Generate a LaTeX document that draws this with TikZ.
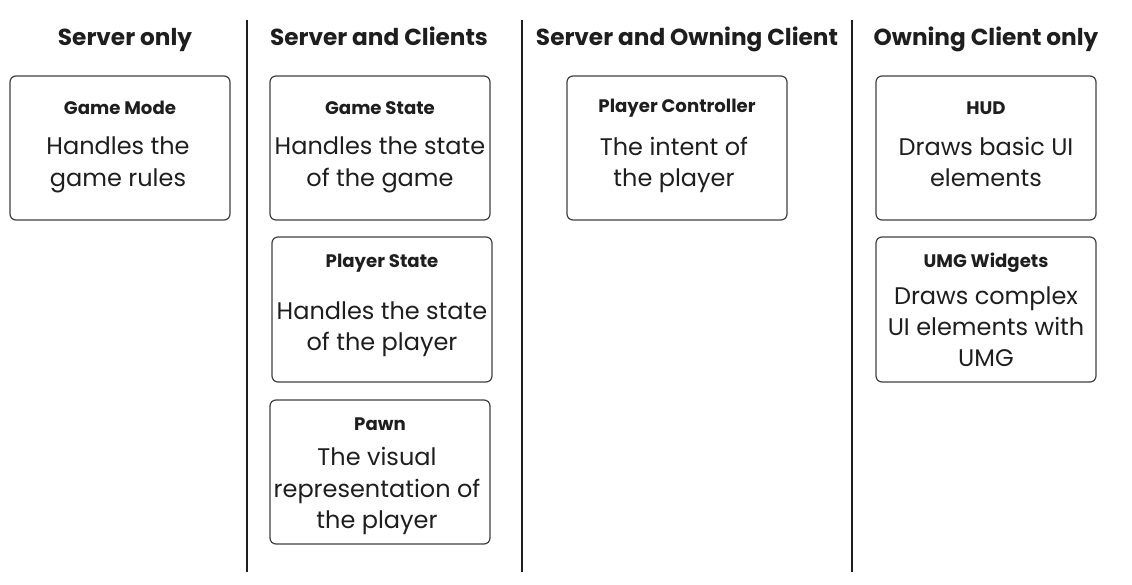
\documentclass[tikz,border=0pt]{standalone}
\usepackage{fontspec}
\setmainfont{Poppins}
\definecolor{ink}{HTML}{1E1E1E}
\begin{document}
\begin{tikzpicture}[x=0.75pt,y=-0.75pt,
  card/.style={draw=ink!85,line width=0.9pt,rounded corners=4.5pt},
  divider/.style={draw=ink,line width=1.4pt},
  head/.style={font=\fontsize{17.4}{20}\selectfont\bfseries,text=ink,inner sep=0pt},
  ttl/.style={font=\fontsize{13.6}{17}\selectfont\bfseries,text=ink,inner sep=0pt},
  body/.style={font=\fontsize{18}{23.5}\selectfont,text=ink,inner sep=0pt,align=center}]
\useasboundingbox (0,0) rectangle (1132,585);
% dividers
\coordinate (d1t) at (247,20); \coordinate (d1b) at (247,572);
\coordinate (d2t) at (522,20); \coordinate (d2b) at (522,572);
\coordinate (d3t) at (852,20); \coordinate (d3b) at (852,572);
\draw[divider] (d1t) -- (d1b);
\draw[divider] (d2t) -- (d2b);
\draw[divider] (d3t) -- (d3b);
% headers
\node[head] (h1) at (125,39.5) {Server only};
\node[head] (h2) at (379,39.5) {Server and Clients\vphantom{y}};
\node[head] (h3) at (687,39.5) {Server and Owning Client};
\node[head] (h4) at (986,39.5) {Owning Client only};
% cards
\draw[card] (10,76) rectangle (230,220);
\node[ttl] (gm) at (120,108) {Game Mode};
\node[body] (gmb) at (118,165) {Handles the\\game rules};
\draw[card] (270,76) rectangle (490,220);
\node[ttl] (gs) at (380,108) {Game State};
\node[body] (gsb) at (380,165) {Handles the state\\of the game};
\draw[card] (272,237) rectangle (492,382);
\node[ttl] (ps) at (382,263) {Player State};
\node[body] (psb) at (382,329) {Handles the state\\of the player};
\draw[card] (270,400) rectangle (490,544);
\node[ttl] (pw) at (380,424) {Pawn};
\node[body] (pwb) at (377,491) {The visual\\representation of\\the player};
\draw[card] (567,76) rectangle (787,220);
\node[ttl] (pc) at (677,108) {Player Controller};
\node[body] (pcb) at (674,165) {The intent of\\the player};
\draw[card] (876,76) rectangle (1096,220);
\node[ttl] (hud) at (986,108) {HUD};
\node[body] (hudb) at (986,165) {Draws basic UI\\elements\vphantom{g}};
\draw[card] (876,237) rectangle (1096,382);
\node[ttl] (umg) at (986,263) {UMG Widgets};
\node[body] (umgb) at (986,330) {Draws complex\\UI elements with\\UMG\vphantom{g}};
\end{tikzpicture}
\end{document}
